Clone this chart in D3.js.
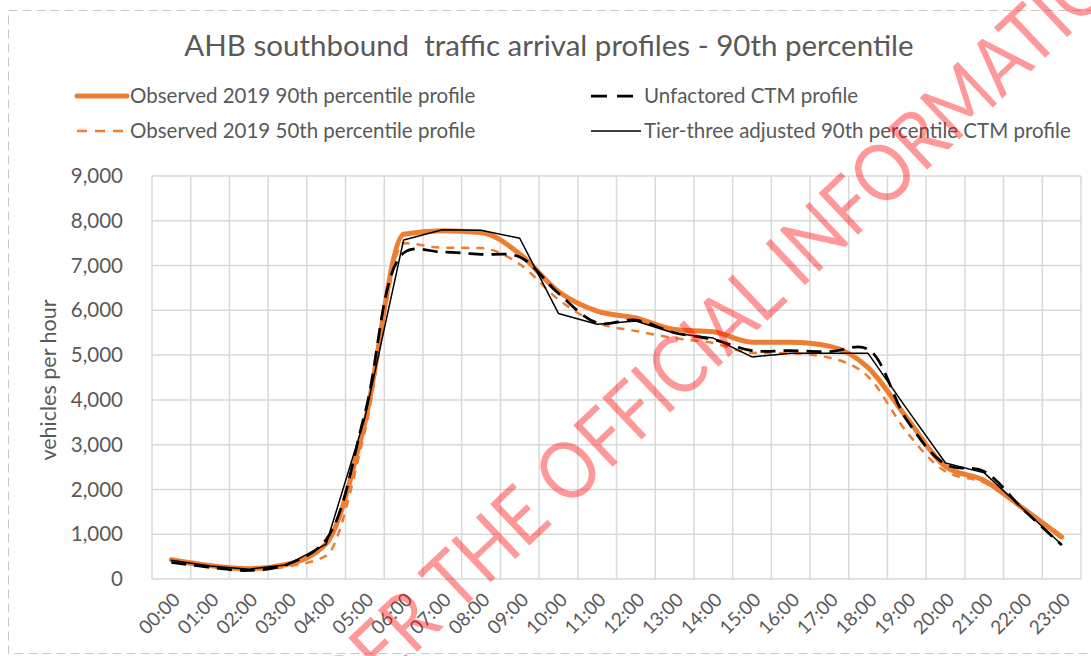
<!DOCTYPE html>
<html>
<head>
<meta charset="utf-8">
<script src="https://cdn.jsdelivr.net/npm/d3@7"></script>
<style>
  html, body { margin: 0; padding: 0; background: #ffffff; }
  svg { display: block; }
  text { font-family: "Lato", "Open Sans", sans-serif; }
</style>
</head>
<body>
<svg id="chart" width="1091" height="656"></svg>
<script>
// Hourly categories along the x axis
const hours = ["00:00","01:00","02:00","03:00","04:00","05:00","06:00","07:00","08:00","09:00","10:00","11:00",
               "12:00","13:00","14:00","15:00","16:00","17:00","18:00","19:00","20:00","21:00","22:00","23:00"];

// Vehicles per hour, one value per hour
const observed90 = [430, 300, 230, 330, 790, 3500, 7700, 7780, 7740, 7260, 6420, 5980,
                    5830, 5570, 5520, 5290, 5290, 5200, 4720, 3600, 2510, 2200, 1580, 940];
const observed50 = [390, 270, 200, 280, 520, 3300, 7500, 7400, 7390, 7030, 6240, 5720,
                    5540, 5380, 5270, 5050, 5040, 4940, 4520, 3280, 2400, 2150, 1560, 900];
const unfactoredCTM = [370, 260, 190, 330, 880, 3700, 7280, 7300, 7250, 7190, 6380, 5720,
                       5780, 5500, 5350, 5100, 5100, 5080, 5130, 3550, 2560, 2400, 1560, 760];
const tierThreeCTM = [420, 290, 220, 320, 780, 3600, 7570, 7800, 7790, 7610, 5930, 5690,
                      5760, 5490, 5380, 4960, 5040, 5040, 5040, 3800, 2590, 2370, 1570, 770];

const yTicks = [0, 1000, 2000, 3000, 4000, 5000, 6000, 7000, 8000, 9000];

const seriesNames = ["Observed 2019 90th percentile profile",
                     "Observed 2019 50th percentile profile",
                     "Unfactored CTM profile",
                     "Tier-three adjusted 90th percentile CTM profile"];

const series = [
  { name: seriesNames[0], values: observed90, color: "#ED7D31", width: 5, dash: null, legendDash: null, curve: d3.curveMonotoneX },
  { name: seriesNames[1], values: observed50, color: "#ED7D31", width: 2.5, dash: "8,7", legendDash: "10,8", curve: d3.curveMonotoneX },
  { name: seriesNames[2], values: unfactoredCTM, color: "#000000", width: 2.75, dash: "15,8", legendDash: "16,10", curve: d3.curveCatmullRom.alpha(0.5) },
  { name: seriesNames[3], values: tierThreeCTM, color: "#000000", width: 1.5, dash: null, legendDash: null, curve: d3.curveLinear }
];

const svg = d3.select("#chart");
const textColor = "#595959";
const gridColor = "#d9d9d9";

const plot = { left: 152, right: 1081, top: 176, bottom: 579 };

const x = d3.scaleBand().domain(hours).range([plot.left, plot.right]).padding(0);
const y = d3.scaleLinear().domain([0, 9000]).range([plot.bottom, plot.top]);
const cx = h => x(h) + x.bandwidth() / 2;

// Chart area frame
svg.append("rect")
  .attr("x", 8.5).attr("y", 10.5).attr("width", 1100).attr("height", 643)
  .attr("fill", "#ffffff").attr("stroke", "#c8c8c8").attr("stroke-width", 1)
  .attr("stroke-dasharray", "9,5");

// Title
svg.append("text")
  .attr("x", 549).attr("y", 56)
  .attr("text-anchor", "middle")
  .attr("fill", textColor)
  .attr("font-size", 29.5)
  .attr("xml:space", "preserve")
  .text("AHB southbound  traffic arrival profiles - 90th percentile");

// Horizontal gridlines
svg.append("g").selectAll("line").data(yTicks).join("line")
  .attr("x1", plot.left).attr("x2", plot.right)
  .attr("y1", d => y(d)).attr("y2", d => y(d))
  .attr("stroke", gridColor).attr("stroke-width", 1.5);

// Vertical gridlines at category boundaries
const edges = hours.map(h => x(h)).concat([plot.right]);
svg.append("g").selectAll("line").data(edges).join("line")
  .attr("x1", d => d).attr("x2", d => d)
  .attr("y1", plot.top).attr("y2", plot.bottom)
  .attr("stroke", gridColor).attr("stroke-width", 1.5);

// Y axis labels
const yAxis = svg.append("g")
  .attr("transform", `translate(${plot.left},0)`)
  .call(d3.axisLeft(y).tickValues(yTicks).tickFormat(d3.format(",")).tickSize(0).tickPadding(29));
yAxis.select(".domain").remove();
yAxis.selectAll("text").attr("fill", textColor).attr("font-size", 20.5).attr("font-family", "Lato");

// X axis labels, rotated
const xAxis = svg.append("g")
  .attr("transform", `translate(0,${plot.bottom})`)
  .call(d3.axisBottom(x).tickSize(0).tickPadding(0));
xAxis.select(".domain").remove();
xAxis.selectAll("text")
  .attr("fill", textColor).attr("font-size", 19).attr("font-family", "Lato")
  .attr("text-anchor", "end")
  .attr("dy", 0)
  .attr("transform", "translate(10,22) rotate(-45)");

// Y axis title
svg.append("text")
  .attr("transform", "translate(56,380) rotate(-90)")
  .attr("text-anchor", "middle")
  .attr("fill", textColor).attr("font-size", 21.5)
  .text("vehicles per hour");

// Series lines
const lineGen = s => d3.line()
  .x((d, i) => cx(hours[i]))
  .y(d => y(d))
  .curve(s.curve);

svg.append("g").selectAll("path").data(series).join("path")
  .attr("d", s => lineGen(s)(s.values))
  .attr("fill", "none")
  .attr("stroke", s => s.color)
  .attr("stroke-width", s => s.width)
  .attr("stroke-dasharray", s => s.dash)
  .attr("stroke-linejoin", "round")
  .attr("stroke-linecap", s => s.dash ? "butt" : "round");

// Legend
const legendPos = [
  { x: 77, y: 96 }, { x: 77, y: 131 }, { x: 591, y: 96 }, { x: 591, y: 131 }
];
const legend = svg.append("g").selectAll("g").data(series).join("g")
  .attr("transform", (s, i) => `translate(${legendPos[i].x},${legendPos[i].y})`);
legend.append("line")
  .attr("x1", 0).attr("x2", 50).attr("y1", 0).attr("y2", 0)
  .attr("stroke", s => s.color)
  .attr("stroke-width", s => s.width)
  .attr("stroke-dasharray", s => s.legendDash)
  .attr("stroke-linecap", s => s.width > 4 ? "round" : "butt");
legend.append("text")
  .attr("x", 53)
  .attr("y", 0).attr("dy", "0.35em")
  .attr("fill", textColor).attr("font-size", 20.5)
  .text(s => s.name);

// Release stamp across the page; the "O" of "OFFICIAL" is pinned to a fixed point
const stamp = "RELEASED UNDER THE OFFICIAL INFORMATION ACT";
const stampSize = 80;
const stampAngle = -43.4;
const stampSquash = 0.876;
const stampFont = "Liberation Sans, Arial, sans-serif";
const probe = svg.append("text").attr("font-family", stampFont).attr("font-size", stampSize)
  .attr("visibility", "hidden");
const prefixWidth = probe.text("RELEASED UNDER THE ").node().getComputedTextLength();
const oWidth = probe.text("O").node().getComputedTextLength();
probe.remove();
svg.append("g")
  .attr("transform", `translate(555,482) rotate(${stampAngle}) scale(${stampSquash},1)`)
  .append("text")
  .attr("x", -(prefixWidth + oWidth / 2))
  .attr("y", 0.358 * stampSize)
  .attr("font-family", stampFont)
  .attr("font-size", stampSize)
  .attr("fill", "rgba(255,0,0,0.4)")
  .text(stamp);
</script>
</body>
</html>
